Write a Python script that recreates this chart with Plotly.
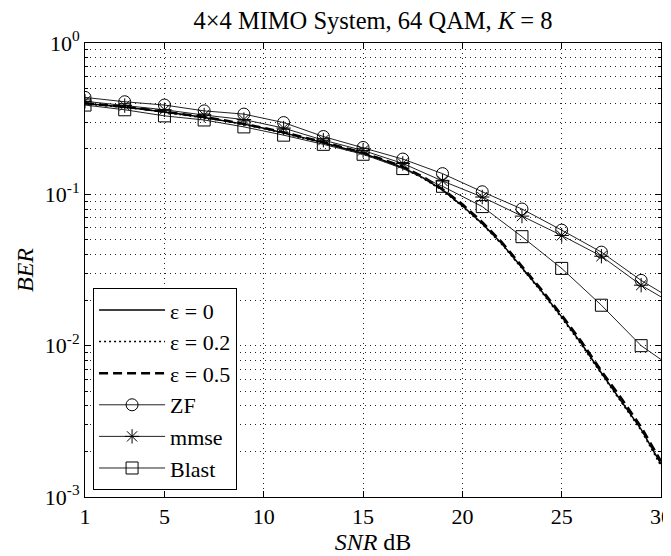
import plotly.graph_objects as go

# ---------------- data ----------------
snr_all = list(range(1, 31))
snr_pts = list(range(1, 30, 2)) + [30]

eps0 = [0.398, 0.388, 0.377, 0.364, 0.351, 0.337, 0.322, 0.307, 0.291, 0.273,
        0.255, 0.237, 0.219, 0.202, 0.186, 0.168, 0.150, 0.129, 0.107, 0.084,
        0.064, 0.047, 0.0330, 0.0228, 0.0155, 0.0103, 0.0066, 0.0043, 0.0028, 0.00165]
eps02 = [0.396, 0.387, 0.375, 0.363, 0.349, 0.336, 0.320, 0.306, 0.289, 0.272,
         0.253, 0.236, 0.218, 0.200, 0.184, 0.167, 0.149, 0.128, 0.106, 0.083,
         0.0635, 0.0465, 0.0326, 0.0225, 0.0152, 0.0101, 0.0065, 0.0042, 0.00275, 0.00160]
eps05 = [0.400, 0.390, 0.379, 0.366, 0.352, 0.339, 0.324, 0.309, 0.293, 0.275,
         0.257, 0.239, 0.221, 0.204, 0.188, 0.170, 0.152, 0.131, 0.108, 0.086,
         0.0655, 0.048, 0.0336, 0.0233, 0.0159, 0.0106, 0.0068, 0.0045, 0.0029, 0.00172]

zf = [0.437, 0.409, 0.389, 0.356, 0.339, 0.298, 0.241, 0.204, 0.171, 0.137,
      0.104, 0.080, 0.058, 0.0415, 0.027, 0.0225]
mmse = [0.412, 0.386, 0.362, 0.334, 0.312, 0.274, 0.228, 0.195, 0.160, 0.1225,
        0.096, 0.0718, 0.0535, 0.039, 0.0251, 0.021]
blast = [0.389, 0.362, 0.330, 0.310, 0.279, 0.246, 0.214, 0.184, 0.148, 0.113,
         0.083, 0.0525, 0.0324, 0.0185, 0.0100, 0.0081]

x_ticks = [1, 5, 10, 15, 20, 25, 30]
y_ticks = [1e-3, 1e-2, 1e-1, 1]
y_ticktext = ["10<sup>-3</sup>", "10<sup>-2</sup>", "10<sup>-1</sup>", "10<sup>0</sup>"]
y_minor = [m * 10 ** e for e in (-3, -2, -1) for m in range(2, 10)]

FONT = "Liberation Serif"
GRID_DASH = "1px,4px"

fig = go.Figure()

fig.add_trace(go.Scatter(x=snr_all, y=eps0, mode="lines", name="ε = 0",
                         line=dict(color="black", width=1.5)))
fig.add_trace(go.Scatter(x=snr_all, y=eps02, mode="lines", name="ε = 0.2",
                         line=dict(color="black", width=1.5, dash="2px,3px")))
fig.add_trace(go.Scatter(x=snr_all, y=eps05, mode="lines", name="ε = 0.5",
                         line=dict(color="black", width=2.5, dash="9px,5px")))

for name, vals, sym in [("ZF", zf, "circle-open"),
                        ("mmse", mmse, "asterisk-open"),
                        ("Blast", blast, "square-open")]:
    fig.add_trace(go.Scatter(x=snr_pts[:-1], y=vals[:-1], mode="lines+markers", name=name,
                             line=dict(color="#222", width=1),
                             marker=dict(symbol=sym, size=12, color="black",
                                         line=dict(color="black", width=1))))
    fig.add_trace(go.Scatter(x=snr_pts[-2:], y=vals[-2:], mode="lines", showlegend=False,
                             line=dict(color="#222", width=1), hoverinfo="skip"))

axis_common = dict(
    showline=True, linecolor="black", linewidth=1, mirror="ticks",
    ticks="inside", ticklen=6, tickcolor="black",
    showgrid=True, gridcolor="#222", gridwidth=1, griddash=GRID_DASH,
    zeroline=False, automargin=False, ticklabeloverflow="allow",
    tickfont=dict(family=FONT, size=22, color="black"),
)

fig.update_xaxes(range=[1, 30], tickvals=x_ticks, ticktext=[str(v) for v in x_ticks],
                 title=dict(text="<i>SNR</i> dB", font=dict(family=FONT, size=24, color="black"),
                            standoff=4),
                 **axis_common)
fig.update_yaxes(type="log", range=[-3, 0], tickvals=y_ticks, ticktext=y_ticktext,
                 title=dict(text="<i>BER</i>", font=dict(family=FONT, size=24, color="black"),
                            standoff=4),
                 minor=dict(tickvals=y_minor, ticks="inside", ticklen=3, tickcolor="black",
                            showgrid=True, gridcolor="#222", gridwidth=1, griddash=GRID_DASH),
                 **axis_common)

# the page body adds an 8px offset, so the figure is 8px smaller and shifted
fig.update_layout(
    width=663, height=548, autosize=False,
    margin=dict(l=77, r=10, t=35, b=59),
    paper_bgcolor="white", plot_bgcolor="white",
    font=dict(family=FONT, size=22, color="black"),
    title=dict(text="4×4 MIMO System, 64 QAM, <i>K</i> = 8", xref="paper", x=0.5,
               xanchor="center", y=0.977, yanchor="middle",
               font=dict(family=FONT, size=24.5, color="black")),
    legend=dict(x=0.014, y=0.015, xanchor="left", yanchor="bottom",
                bgcolor="white", bordercolor="black", borderwidth=1,
                font=dict(family=FONT, size=22, color="black"),
                itemwidth=66),
    showlegend=True,
)

fig.write_html("out.html")
